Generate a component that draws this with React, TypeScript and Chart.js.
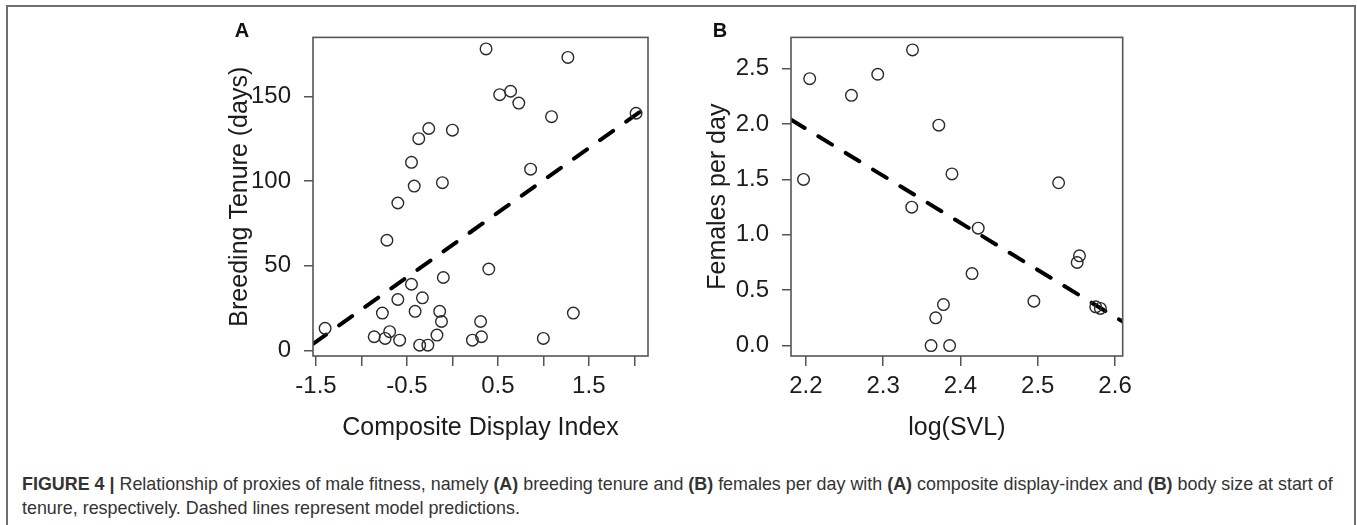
import React, { useEffect, useRef } from "react";
import { Chart, registerables } from "chart.js";

Chart.register(...registerables);

// ---------- Panel A: breeding tenure vs composite display index ----------
const displayIndex = [
  0.37, 1.27, 0.52, 0.64, 0.73, 1.09, 2.02, -0.26, -0.37, 0.0,
  -0.45, -0.42, -0.11, 0.86, -0.6, -0.72, 0.4, -0.1, -0.45, -0.6,
  -0.33, -0.77, -0.41, -0.14, -0.12, 1.33, 0.31, -1.4, -0.69, -0.86,
  -0.74, -0.58, -0.17, -0.36, -0.27, 0.22, 0.32, 1.0,
];
const breedingTenure = [
  178, 173, 151, 153, 146, 138, 140, 131, 125, 130,
  111, 97, 99, 107, 87, 65, 48, 43, 39, 30,
  31, 22, 23, 23, 17, 22, 17, 13, 11, 8,
  7, 6, 9, 3, 3, 6, 8, 7,
];
const tenureFitX = [-1.533, 2.151];
const tenureFitY = [3.8, 144.2];
const tenureXTicks = [-1.5, -1, -0.5, 0, 0.5, 1, 1.5, 2];
const tenureXLabels = ["-1.5", "", "-0.5", "", "0.5", "", "1.5", ""];
const tenureYTicks = [0, 50, 100, 150];
const tenureYLabels = ["0", "50", "100", "150"];

// ---------- Panel B: females per day vs log(SVL) ----------
const logSVL = [
  2.338, 2.205, 2.293, 2.259, 2.372, 2.197, 2.389, 2.527, 2.337, 2.423,
  2.415, 2.378, 2.368, 2.362, 2.386, 2.495, 2.554, 2.551, 2.575, 2.581,
];
const femalesPerDay = [
  2.67, 2.41, 2.45, 2.26, 1.99, 1.5, 1.55, 1.47, 1.25, 1.06,
  0.65, 0.37, 0.25, 0, 0, 0.4, 0.81, 0.75, 0.35, 0.335,
];
const femalesFitX = [2.1808, 2.6099];
const femalesFitY = [2.04, 0.216];
const svlXTicks = [2.2, 2.3, 2.4, 2.5, 2.6];
const svlXLabels = ["2.2", "2.3", "2.4", "2.5", "2.6"];
const femalesYTicks = [0, 0.5, 1, 1.5, 2, 2.5];
const femalesYLabels = ["0.0", "0.5", "1.0", "1.5", "2.0", "2.5"];

const FONT = "'Liberation Sans', Arial, Helvetica, sans-serif";
const TEXT = "#1c1c1c";
const AXIS = "#555555";

type Panel = {
  xs: number[];
  ys: number[];
  fitX: number[];
  fitY: number[];
  xMin: number;
  xMax: number;
  yMin: number;
  yMax: number;
  xTicks: number[];
  xLabels: string[];
  yTicks: number[];
  yLabels: string[];
  xTitle: string;
  yTitle: string;
};

const boxPlugin = {
  id: "plotBox",
  afterDraw(chart: any) {
    const { ctx, chartArea } = chart;
    ctx.save();
    ctx.strokeStyle = AXIS;
    ctx.lineWidth = 1.6;
    ctx.strokeRect(
      chartArea.left,
      chartArea.top,
      chartArea.right - chartArea.left,
      chartArea.bottom - chartArea.top
    );
    ctx.restore();
  },
};

function ScatterPanel({ p, left, top }: { p: Panel; left: number; top: number }) {
  const ref = useRef<HTMLCanvasElement | null>(null);
  useEffect(() => {
    if (!ref.current) return;
    const points = p.xs.map((x, i) => ({ x, y: p.ys[i] }));
    const fit = p.fitX.map((x, i) => ({ x, y: p.fitY[i] }));
    const chart = new Chart(ref.current, {
      type: "scatter",
      data: {
        datasets: [
          {
            data: points,
            pointStyle: "circle",
            pointRadius: 5.8,
            pointBorderWidth: 1.4,
            pointBorderColor: "#2a2a2a",
            pointBackgroundColor: "rgba(0,0,0,0)",
            showLine: false,
          } as any,
          {
            data: fit,
            showLine: true,
            pointRadius: 0,
            borderColor: "#000000",
            borderWidth: 4,
            borderDash: [16, 16],
            borderCapStyle: "round",
            clip: 0,
          } as any,
        ],
      },
      options: {
        responsive: false,
        devicePixelRatio: 1,
        animation: false,
        events: [],
        layout: { padding: { top: 11, right: 12, left: 0, bottom: 0 } },
        plugins: { legend: { display: false }, tooltip: { enabled: false }, title: { display: false } },
        scales: {
          x: {
            type: "linear",
            min: p.xMin,
            max: p.xMax,
            afterBuildTicks: (s: any) => {
              s.ticks = p.xTicks.map((v) => ({ value: v }));
            },
            afterFit: (s: any) => {
              s.height = 84;
            },
            border: { display: false },
            grid: { drawOnChartArea: false, drawTicks: true, tickLength: 10, color: AXIS, lineWidth: 1.5 },
            ticks: {
              autoSkip: false,
              maxRotation: 0,
              minRotation: 0,
              padding: 6,
              color: TEXT,
              font: { family: FONT, size: 24 },
              callback: (_v: any, i: number) => p.xLabels[i],
            },
            title: {
              display: true,
              text: p.xTitle,
              color: TEXT,
              font: { family: FONT, size: 25 },
              padding: { top: 0, bottom: -3 },
            },
          },
          y: {
            type: "linear",
            min: p.yMin,
            max: p.yMax,
            afterBuildTicks: (s: any) => {
              s.ticks = p.yTicks.map((v) => ({ value: v }));
            },
            afterFit: (s: any) => {
              s.width = 98;
            },
            border: { display: false },
            grid: { drawOnChartArea: false, drawTicks: true, tickLength: 9, color: AXIS, lineWidth: 1.5 },
            ticks: {
              autoSkip: false,
              padding: 13,
              color: TEXT,
              font: { family: FONT, size: 24 },
              callback: (_v: any, i: number) => p.yLabels[i],
            },
            title: {
              display: true,
              text: p.yTitle,
              color: TEXT,
              font: { family: FONT, size: 25 },
              padding: { top: 10, bottom: 0 },
            },
          },
        },
      },
      plugins: [boxPlugin],
    } as any);
    return () => chart.destroy();
  }, [p]);
  return (
    <canvas
      ref={ref}
      width={445}
      height={430}
      style={{ position: "absolute", left, top, width: 445, height: 430 }}
    />
  );
}

const panelA: Panel = {
  xs: displayIndex,
  ys: breedingTenure,
  fitX: tenureFitX,
  fitY: tenureFitY,
  xMin: -1.533,
  xMax: 2.151,
  yMin: -3.37,
  yMax: 184.8,
  xTicks: tenureXTicks,
  xLabels: tenureXLabels,
  yTicks: tenureYTicks,
  yLabels: tenureYLabels,
  xTitle: "Composite Display Index",
  yTitle: "Breeding Tenure (days)",
};

const panelB: Panel = {
  xs: logSVL,
  ys: femalesPerDay,
  fitX: femalesFitX,
  fitY: femalesFitY,
  xMin: 2.1808,
  xMax: 2.6099,
  yMin: -0.0945,
  yMax: 2.783,
  xTicks: svlXTicks,
  xLabels: svlXLabels,
  yTicks: femalesYTicks,
  yLabels: femalesYLabels,
  xTitle: "log(SVL)",
  yTitle: "Females per day",
};

const letterStyle: React.CSSProperties = {
  position: "absolute",
  transform: "translate(-50%, -50%)",
  fontFamily: FONT,
  fontWeight: "bold",
  fontSize: 20,
  lineHeight: 1,
  color: "#111",
};

export default function App() {
  return (
    <div
      style={{
        position: "absolute",
        left: 0,
        top: 0,
        width: 1357,
        height: 525,
        background: "#ffffff",
        overflow: "hidden",
      }}
    >
      <div
        style={{
          position: "absolute",
          left: 6,
          top: 5,
          width: 1350,
          height: 640,
          boxSizing: "border-box",
          borderTop: "2px solid #6e6e6e",
          borderLeft: "2px solid #6e6e6e",
          borderRight: "2px solid #6e6e6e",
        }}
      />
      <ScatterPanel p={panelA} left={215} top={10} />
      <ScatterPanel p={panelB} left={693} top={10} />
      <div style={{ ...letterStyle, left: 242, top: 30 }}>A</div>
      <div style={{ ...letterStyle, left: 720, top: 30 }}>B</div>
      <div
        style={{
          position: "absolute",
          left: 22,
          top: 472,
          fontFamily: FONT,
          fontSize: 17.9,
          lineHeight: "24px",
          color: "#333333",
          whiteSpace: "nowrap",
        }}
      >
        <b>FIGURE 4 |</b> Relationship of proxies of male fitness, namely <b>(A)</b> breeding tenure and{" "}
        <b>(B)</b> females per day with <b>(A)</b> composite display-index and <b>(B)</b> body size at start of
        <br />
        tenure, respectively. Dashed lines represent model predictions.
      </div>
    </div>
  );
}
